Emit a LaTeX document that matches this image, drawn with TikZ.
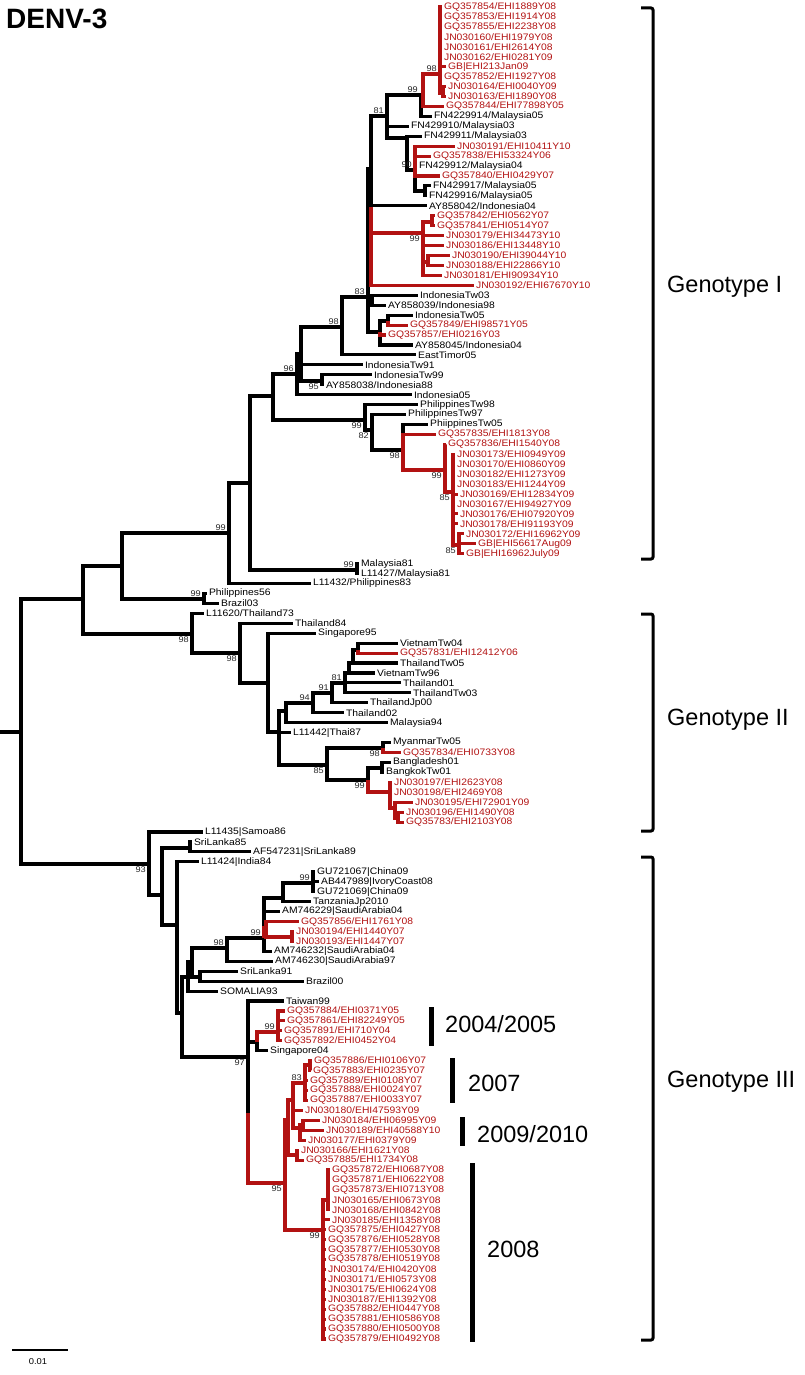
\documentclass[tikz,border=0pt]{standalone}
\usepackage{fontspec}
\setmainfont{Liberation Sans}
\newfontfamily\leaffont[FakeStretch=1.1]{Liberation Sans}
\usetikzlibrary{positioning}

\definecolor{ehired}{RGB}{178,18,18}
\tikzset{
  br/.style={line width=3.1pt, black},
  brr/.style={line width=3.1pt, ehired},
  leaf/.style={anchor=west, inner sep=1.9pt, font=\leaffont\fontsize{9.4}{10}\selectfont},
  leafred/.style={leaf, text=ehired},
  bsa/.style={anchor=south east, inner sep=0.5pt, xshift=-2.5pt, yshift=2pt, text=black!85, font=\leaffont\fontsize{8.3}{9}\selectfont},
  bsb/.style={anchor=north east, inner sep=0.5pt, xshift=-2.5pt, yshift=-2pt, text=black!85, font=\leaffont\fontsize{8.3}{9}\selectfont},
  clade/.style={line width=3pt, rounded corners=2pt},
  yearbar/.style={line width=5pt},
  big/.style={anchor=west, inner sep=0pt, font=\fontsize{23.5}{26}\selectfont}
}
\newcommand\leafb[3]{\node[leaf] (l#1) at (#2,{7+(#1-1)*9.94}) {#3};}
\newcommand\leafr[3]{\node[leafred] (l#1) at (#2,{7+(#1-1)*9.94}) {#3};}

\begin{document}
\begin{tikzpicture}[x=1pt,y=-1pt]
\useasboundingbox (0,0) rectangle (804,1375);
\node[anchor=north west, inner sep=0pt, font=\bfseries\fontsize{28}{30}\selectfont] (title) at (6,9) {DENV-3};

% Genotype I
\leafr{1}{442}{GQ357854/EHI1889Y08}
\leafr{2}{442}{GQ357853/EHI1914Y08}
\leafr{3}{442}{GQ357855/EHI2238Y08}
\leafr{4}{442}{JN030160/EHI1979Y08}
\leafr{5}{442}{JN030161/EHI2614Y08}
\leafr{6}{442}{JN030162/EHI0281Y09}
\leafr{7}{446}{GB|EHI213Jan09}
\leafr{8}{442}{GQ357852/EHI1927Y08}
\leafr{9}{446}{JN030164/EHI0040Y09}
\leafr{10}{446}{JN030163/EHI1890Y08}
\leafr{11}{444}{GQ357844/EHI77898Y05}
\leafb{12}{432}{FN4229914/Malaysia05}
\leafb{13}{409}{FN429910/Malaysia03}
\leafb{14}{422}{FN429911/Malaysia03}
\leafr{15}{455}{JN030191/EHI10411Y10}
\leafr{16}{431}{GQ357838/EHI53324Y06}
\leafb{17}{417}{FN429912/Malaysia04}
\leafr{18}{440}{GQ357840/EHI0429Y07}
\leafb{19}{431}{FN429917/Malaysia05}
\leafb{20}{427}{FN429916/Malaysia05}
\leafb{21}{427}{AY858042/Indonesia04}
\leafr{22}{435}{GQ357842/EHI0562Y07}
\leafr{23}{435}{GQ357841/EHI0514Y07}
\leafr{24}{444}{JN030179/EHI34473Y10}
\leafr{25}{444}{JN030186/EHI13448Y10}
\leafr{26}{450}{JN030190/EHI39044Y10}
\leafr{27}{444}{JN030188/EHI22866Y10}
\leafr{28}{442}{JN030181/EHI90934Y10}
\leafr{29}{474}{JN030192/EHI67670Y10}
\leafb{30}{418}{IndonesiaTw03}
\leafb{31}{386}{AY858039/Indonesia98}
\leafb{32}{413}{IndonesiaTw05}
\leafr{33}{408}{GQ357849/EHI98571Y05}
\leafr{34}{386}{GQ357857/EHI0216Y03}
\leafb{35}{413}{AY858045/Indonesia04}
\leafb{36}{416}{EastTimor05}
\leafb{37}{363}{IndonesiaTw91}
\leafb{38}{372}{IndonesiaTw99}
\leafb{39}{324}{AY858038/Indonesia88}
\leafb{40}{412}{Indonesia05}
\leafb{41}{418}{PhilippinesTw98}
\leafb{42}{406}{PhilippinesTw97}
\leafb{43}{428}{PhiippinesTw05}
\leafr{44}{436}{GQ357835/EHI1813Y08}
\leafr{45}{446}{GQ357836/EHI1540Y08}
\leafr{46}{455}{JN030173/EHI0949Y09}
\leafr{47}{455}{JN030170/EHI0860Y09}
\leafr{48}{455}{JN030182/EHI1273Y09}
\leafr{49}{455}{JN030183/EHI1244Y09}
\leafr{50}{458}{JN030169/EHI12834Y09}
\leafr{51}{455}{JN030167/EHI94927Y09}
\leafr{52}{458}{JN030176/EHI07920Y09}
\leafr{53}{458}{JN030178/EHI91193Y09}
\leafr{54}{464}{JN030172/EHI16962Y09}
\leafr{55}{476}{GB|EHI56617Aug09}
\leafr{56}{464}{GB|EHI16962July09}
\leafb{57}{359}{Malaysia81}
\leafb{58}{359}{L11427/Malaysia81}
\leafb{59}{311}{L11432/Philippines83}
\leafb{60}{207}{Philippines56}
\leafb{61}{219}{Brazil03}
% Genotype II
\leafb{62}{204}{L11620/Thailand73}
\leafb{63}{293}{Thailand84}
\leafb{64}{316}{Singapore95}
\leafb{65}{398}{VietnamTw04}
\leafr{66}{398}{GQ357831/EHI12412Y06}
\leafb{67}{398}{ThailandTw05}
\leafb{68}{375}{VietnamTw96}
\leafb{69}{401}{Thailand01}
\leafb{70}{411}{ThailandTw03}
\leafb{71}{368}{ThailandJp00}
\leafb{72}{344}{Thailand02}
\leafb{73}{388}{Malaysia94}
\leafb{74}{291}{L11442|Thai87}
\leafb{75}{391}{MyanmarTw05}
\leafr{76}{401}{GQ357834/EHI0733Y08}
\leafb{77}{391}{Bangladesh01}
\leafb{78}{384}{BangkokTw01}
\leafr{79}{392}{JN030197/EHI2623Y08}
\leafr{80}{392}{JN030198/EHI2469Y08}
\leafr{81}{413}{JN030195/EHI72901Y09}
\leafr{82}{404}{JN030196/EHI1490Y08}
\leafr{83}{404}{GQ35783/EHI2103Y08}
% Genotype III
\leafb{84}{203}{L11435|Samoa86}
\leafb{85}{192}{SriLanka85}
\leafb{86}{251}{AF547231|SriLanka89}
\leafb{87}{199}{L11424|India84}
\leafb{88}{315}{GU721067|China09}
\leafb{89}{319}{AB447989|IvoryCoast08}
\leafb{90}{315}{GU721069|China09}
\leafb{91}{311}{TanzaniaJp2010}
\leafb{92}{280}{AM746229|SaudiArabia04}
\leafr{93}{299}{GQ357856/EHI1761Y08}
\leafr{94}{294}{JN030194/EHI1440Y07}
\leafr{95}{294}{JN030193/EHI1447Y07}
\leafb{96}{272}{AM746232|SaudiArabia04}
\leafb{97}{273}{AM746230|SaudiArabia97}
\leafb{98}{238}{SriLanka91}
\leafb{99}{304}{Brazil00}
\leafb{100}{218}{SOMALIA93}
\leafb{101}{284}{Taiwan99}
\leafr{102}{285}{GQ357884/EHI0371Y05}
\leafr{103}{285}{GQ357861/EHI82249Y05}
\leafr{104}{282}{GQ357891/EHI710Y04}
\leafr{105}{282}{GQ357892/EHI0452Y04}
\leafb{106}{268}{Singapore04}
\leafr{107}{312}{GQ357886/EHI0106Y07}
\leafr{108}{311}{GQ357883/EHI0235Y07}
\leafr{109}{308}{GQ357889/EHI0108Y07}
\leafr{110}{308}{GQ357888/EHI0024Y07}
\leafr{111}{308}{GQ357887/EHI0033Y07}
\leafr{112}{303}{JN030180/EHI47593Y09}
\leafr{113}{320}{JN030184/EHI06995Y09}
\leafr{114}{324}{JN030189/EHI40588Y10}
\leafr{115}{306}{JN030177/EHI0379Y09}
\leafr{116}{299}{JN030166/EHI1621Y08}
\leafr{117}{304}{GQ357885/EHI1734Y08}
\leafr{118}{330}{GQ357872/EHI0687Y08}
\leafr{119}{330}{GQ357871/EHI0622Y08}
\leafr{120}{330}{GQ357873/EHI0713Y08}
\leafr{121}{330}{JN030165/EHI0673Y08}
\leafr{122}{330}{JN030168/EHI0842Y08}
\leafr{123}{330}{JN030185/EHI1358Y08}
\leafr{124}{326}{GQ357875/EHI0427Y08}
\leafr{125}{326}{GQ357876/EHI0528Y08}
\leafr{126}{326}{GQ357877/EHI0530Y08}
\leafr{127}{326}{GQ357878/EHI0519Y08}
\leafr{128}{326}{JN030174/EHI0420Y08}
\leafr{129}{326}{JN030171/EHI0573Y08}
\leafr{130}{326}{JN030175/EHI0624Y08}
\leafr{131}{326}{JN030187/EHI1392Y08}
\leafr{132}{326}{GQ357882/EHI0447Y08}
\leafr{133}{326}{GQ357881/EHI0586Y08}
\leafr{134}{326}{GQ357880/EHI0500Y08}
\leafr{135}{326}{GQ357879/EHI0492Y08}

% inner nodes
\coordinate (root) at (0,732);
\coordinate (Rt) at (21,732);
\coordinate (A) at (83,599);
\coordinate (B) at (122,566);
\coordinate (C) at (229,533);
\coordinate (D) at (250,483);
\coordinate (E) at (273,396);
\coordinate (F) at (297,374);
\coordinate (F2) at (301,354);
\coordinate (G) at (342,327);
\coordinate (H) at (368,297);
\coordinate (H2) at (371,169);
\coordinate (H3) at (372,301);
\coordinate (H4) at (380,332);
\coordinate (H5) at (388,321);
\coordinate (I) at (322,381);
\coordinate (M) at (357,570);
\coordinate (PB) at (204,599);
\coordinate (P) at (365,420);
\coordinate (P2) at (372,430);
\coordinate (P3) at (403,450);
\coordinate (P4) at (445,470);
\coordinate (P5) at (453,492);
\coordinate (P6) at (459,545);
\coordinate (T5) at (387,116);
\coordinate (T3) at (421,95);
\coordinate (T2) at (423,95);
\coordinate (T1) at (440,74);
\coordinate (T1b) at (443,93);
\coordinate (T6) at (407,138);
\coordinate (T7) at (415,170);
\coordinate (T8) at (425,191);
\coordinate (RR) at (423,233);
\coordinate (R1a) at (432,222);
\coordinate (R1b) at (428,262);
\coordinate (II) at (192,634);
\coordinate (II2) at (240,653);
\coordinate (II3) at (268,683);
\coordinate (II4) at (279,732);
\coordinate (II5) at (286,711);
\coordinate (II7) at (313,703);
\coordinate (II8) at (332,693);
\coordinate (II9) at (345,683);
\coordinate (II10) at (349,673);
\coordinate (II11) at (353,663);
\coordinate (II12) at (358,650);
\coordinate (II6) at (327,765);
\coordinate (II13) at (383,748);
\coordinate (II14) at (368,780);
\coordinate (II15) at (382,768);
\coordinate (II16) at (390,792);
\coordinate (II17) at (395,808);
\coordinate (II18) at (398,818);
\coordinate (N1) at (149,864);
\coordinate (N2) at (162,895);
\coordinate (N3) at (190,848);
\coordinate (N4) at (177,925);
\coordinate (N5) at (182,1013);
\coordinate (N7) at (188,977);
\coordinate (N8) at (192,962);
\coordinate (N9) at (200,977);
\coordinate (N6) at (227,948);
\coordinate (N10) at (264,938);
\coordinate (N11) at (283,898);
\coordinate (NC) at (313,883);
\coordinate (N12) at (266,928);
\coordinate (N13) at (292,937);
\coordinate (N20) at (248,1057);
\coordinate (N20s) at (248,1113);
\coordinate (N22) at (257,1042);
\coordinate (N21) at (278,1032);
\coordinate (N30) at (285,1183);
\coordinate (N33) at (288,1120);
\coordinate (N34) at (293,1100);
\coordinate (N31) at (305,1083);
\coordinate (N32) at (310,1065);
\coordinate (N36) at (300,1128);
\coordinate (N37) at (303,1125);
\coordinate (N35) at (297,1155);
\coordinate (N40) at (323,1230);
\coordinate (N41) at (328,1200);

% branches
\draw[br] (root) -- (Rt);
\draw[br] (Rt) |- (A); \draw[br] (Rt) |- (N1);
\draw[br] (A) |- (B); \draw[br] (A) |- (II);
\draw[br] (B) |- (C); \draw[br] (B) |- (PB);
\draw[br] (C) |- (D); \draw[br] (C) |- (l59.west);
\draw[br] (D) |- (E); \draw[br] (D) |- (M);
\draw[br] (M) |- (l57.west); \draw[br] (M) |- (l58.west);
\draw[br] (PB) |- (l60.west); \draw[br] (PB) |- (l61.west);
\draw[br] (E) |- (F); \draw[br] (E) |- (P);
\draw[br] (F) |- (F2); \draw[br] (F) |- (l40.west);
\draw[br] (F2) |- (G); \draw[br] (F2) |- (l37.west); \draw[br] (F2) |- (I);
\draw[br] (I) |- (l38.west); \draw[br] (I) |- (l39.west);
\draw[br] (G) |- (H); \draw[br] (G) |- (l36.west);
\draw[br] (H) |- (H2); \draw[br] (H) |- (H3); \draw[br] (H) |- (H4);
\draw[br] (H3) |- (l30.west); \draw[br] (H3) |- (l31.west);
\draw[br] (H4) |- (H5); \draw[br] (H4) |- (l35.west);
\draw[brr] (H4) |- (l34.west);
\draw[br] (H5) |- (l32.west);
\draw[brr] (H5) |- (l33.west);
\draw[brr] (H2) |- (RR); \draw[brr] (H2) |- (l29.west);
\draw[br] (H2) |- (T5); \draw[br] (H2) |- (l21.west);
\foreach \k in {24,25,28} {\draw[brr] (RR) |- (l\k.west);}
\draw[brr] (RR) |- (R1a); \draw[brr] (RR) |- (R1b);
\draw[brr] (R1a) |- (l22.west); \draw[brr] (R1a) |- (l23.west);
\draw[brr] (R1b) |- (l26.west); \draw[brr] (R1b) |- (l27.west);
\draw[br] (T5) |- (T3); \draw[br] (T5) |- (l13.west); \draw[br] (T5) |- (T6);
\draw[br] (T3) |- (T2); \draw[br] (T3) |- (l12.west);
\draw[brr] (T2) |- (T1); \draw[brr] (T2) |- (l11.west);
\foreach \k in {1,...,8} {\draw[brr] (T1) |- (l\k.west);}
\draw[brr] (T1) |- (T1b);
\draw[brr] (T1b) |- (l9.west); \draw[brr] (T1b) |- (l10.west);
\draw[br] (T6) |- (l14.west); \draw[br] (T6) |- (T7);
\draw[br] (T7) |- (l17.west); \draw[br] (T7) |- (T8);
\foreach \k in {15,16,18} {\draw[brr] (T7) |- (l\k.west);}
\draw[br] (T8) |- (l19.west); \draw[br] (T8) |- (l20.west);
\draw[br] (P) |- (l41.west); \draw[br] (P) |- (P2);
\draw[br] (P2) |- (l42.west); \draw[br] (P2) |- (P3);
\draw[br] (P3) |- (l43.west);
\draw[brr] (P3) |- (l44.west); \draw[brr] (P3) |- (P4);
\draw[brr] (P4) |- (l45.west); \draw[brr] (P4) |- (P5);
\foreach \k in {46,...,53} {\draw[brr] (P5) |- (l\k.west);}
\draw[brr] (P5) |- (P6);
\foreach \k in {54,55,56} {\draw[brr] (P6) |- (l\k.west);}

\draw[br] (II) |- (l62.west); \draw[br] (II) |- (II2);
\draw[br] (II2) |- (l63.west); \draw[br] (II2) |- (II3);
\draw[br] (II3) |- (l64.west); \draw[br] (II3) |- (II4);
\draw[br] (II4) |- (II5); \draw[br] (II4) |- (l74.west); \draw[br] (II4) |- (II6);
\draw[br] (II5) |- (II7); \draw[br] (II5) |- (l73.west);
\draw[br] (II7) |- (II8); \draw[br] (II7) |- (l72.west);
\draw[br] (II8) |- (II9); \draw[br] (II8) |- (l71.west);
\draw[br] (II9) |- (II10); \draw[br] (II9) |- (l69.west); \draw[br] (II9) |- (l70.west);
\draw[br] (II10) |- (II11); \draw[br] (II10) |- (l68.west);
\draw[br] (II11) |- (II12); \draw[br] (II11) |- (l67.west);
\draw[br] (II12) |- (l65.west);
\draw[brr] (II12) |- (l66.west);
\draw[br] (II6) |- (II13); \draw[br] (II6) |- (II14);
\draw[br] (II13) |- (l75.west);
\draw[brr] (II13) |- (l76.west);
\draw[br] (II14) |- (II15);
\draw[brr] (II14) |- (II16);
\draw[br] (II15) |- (l77.west); \draw[br] (II15) |- (l78.west);
\draw[brr] (II16) |- (l79.west); \draw[brr] (II16) |- (l80.west); \draw[brr] (II16) |- (II17);
\draw[brr] (II17) |- (l81.west); \draw[brr] (II17) |- (II18);
\draw[brr] (II18) |- (l82.west); \draw[brr] (II18) |- (l83.west);

\draw[br] (N1) |- (l84.west); \draw[br] (N1) |- (N2);
\draw[br] (N2) |- (N3); \draw[br] (N2) |- (N4);
\draw[br] (N3) |- (l85.west); \draw[br] (N3) |- (l86.west);
\draw[br] (N4) |- (l87.west); \draw[br] (N4) |- (N5);
\draw[br] (N5) |- (N7);
\draw[br] (N7) |- (N8); \draw[br] (N7) |- (l100.west);
\draw[br] (N8) |- (N6); \draw[br] (N8) |- (N9);
\draw[br] (N9) |- (l98.west); \draw[br] (N9) |- (l99.west);
\draw[br] (N6) |- (N10); \draw[br] (N6) |- (l97.west);
\draw[br] (N10) |- (N11); \draw[br] (N10) |- (l92.west); \draw[br] (N10) |- (l96.west);
\draw[brr] (N10) |- (N12);
\draw[br] (N11) |- (NC); \draw[br] (N11) |- (l91.west);
\foreach \k in {88,89,90} {\draw[br] (NC) |- (l\k.west);}
\draw[brr] (N12) |- (l93.west); \draw[brr] (N12) |- (N13);
\draw[brr] (N13) |- (l94.west); \draw[brr] (N13) |- (l95.west);
\draw[brr] (N20) |- (N30);
\draw[br] (N5) |- (N20);
\draw[br] (N20) -- (N20s);
\draw[br] (N20) |- (l101.west); \draw[br] (N20) |- (N22);
\draw[br] (N22) |- (l106.west);
\draw[brr] (N22) |- (N21);
\foreach \k in {102,...,105} {\draw[brr] (N21) |- (l\k.west);}
\draw[brr] (N30) |- (N33); \draw[brr] (N30) |- (N40);
\draw[brr] (N33) |- (N34); \draw[brr] (N33) |- (N35);
\draw[brr] (N34) |- (N31); \draw[brr] (N34) |- (l112.west); \draw[brr] (N34) |- (N36);
\draw[brr] (N31) |- (N32);
\foreach \k in {109,110,111} {\draw[brr] (N31) |- (l\k.west);}
\draw[brr] (N32) |- (l107.west); \draw[brr] (N32) |- (l108.west);
\draw[brr] (N36) |- (N37); \draw[brr] (N36) |- (l115.west);
\draw[brr] (N37) |- (l113.west); \draw[brr] (N37) |- (l114.west);
\draw[brr] (N35) |- (l116.west); \draw[brr] (N35) |- (l117.west);
\draw[brr] (N40) |- (N41);
\foreach \k in {123,...,135} {\draw[brr] (N40) |- (l\k.west);}
\foreach \k in {118,...,122} {\draw[brr] (N41) |- (l\k.west);}

% bootstrap values
\node[bsa] (bT1) at (T1) {98};
\node[bsa] (bT3) at (T3) {99};
\node[bsa] (bT5) at (T5) {81};
\node[bsa] (bT7) at (T7) {90};
\node[bsa] (bH) at (H) {83};
\node[bsa] (bG) at (G) {98};
\node[bsa] (bF) at (F) {96};
\node[bsa] (bM) at (M) {99};
\node[bsa] (bC) at (C) {99};
\node[bsa] (bPB) at (PB) {99};
\node[bsb] (bRR) at (RR) {99};
\node[bsb] (bI) at (I) {95};
\node[bsb] (bP) at (P) {99};
\node[bsb] (bP2) at (P2) {82};
\node[bsb] (bP3) at (P3) {98};
\node[bsb] (bP4) at (P4) {99};
\node[bsb] (bP5) at (P5) {85};
\node[bsb] (bP6) at (P6) {85};
\node[bsb] (bII) at (II) {98};
\node[bsb] (bII2) at (II2) {98};
\node[bsa] (bII7) at (II7) {94};
\node[bsa] (bII8) at (II8) {91};
\node[bsa] (bII9) at (II9) {81};
\node[bsb] (bII6) at (II6) {85};
\node[bsb] (bII13) at (II13) {98};
\node[bsb] (bII14) at (II14) {99};
\node[bsb] (bN1) at (N1) {93};
\node[bsa] (bNC) at (NC) {99};
\node[bsa] (bN10) at (N10) {99};
\node[bsa] (bN6) at (N6) {98};
\node[bsb] (bN20) at (N20) {97};
\node[bsa] (bN21) at (N21) {99};
\node[bsa] (bN31) at (N31) {83};
\node[bsb] (bN30) at (N30) {95};
\node[bsb] (bN40) at (N40) {99};

% genotype brackets
\draw[clade] (641,8) -- (653,8) -- (653,559) -- (641,559);
\draw[clade] (641,614) -- (653,614) -- (653,831) -- (641,831);
\draw[clade] (641,857) -- (653,857) -- (653,1340) -- (641,1340);
\node[big] (gI) at (667,287) {Genotype I};
\node[big] (gII) at (667,720) {Genotype II};
\node[big] (gIII) at (667,1082) {Genotype III};

% years
\draw[yearbar] (431,1007) -- (431,1046);
\draw[yearbar] (452,1058) -- (452,1103);
\draw[yearbar] (462,1117) -- (462,1146);
\draw[yearbar] (472,1163) -- (472,1342);
\node[big] (y1) at (445,1024) {2004/2005};
\node[big] (y2) at (468,1083) {2007};
\node[big] (y3) at (477,1134) {2009/2010};
\node[big] (y4) at (487,1249) {2008};

% scale
\coordinate (sb0) at (12,1350);
\coordinate (sb1) at (68,1350);
\draw[line width=1.5pt] (sb0) -- (sb1);
\node[font=\leaffont\fontsize{8.5}{9}\selectfont, inner sep=0pt] (sbl) at (38,1362) {0.01};
\end{tikzpicture}
\end{document}
